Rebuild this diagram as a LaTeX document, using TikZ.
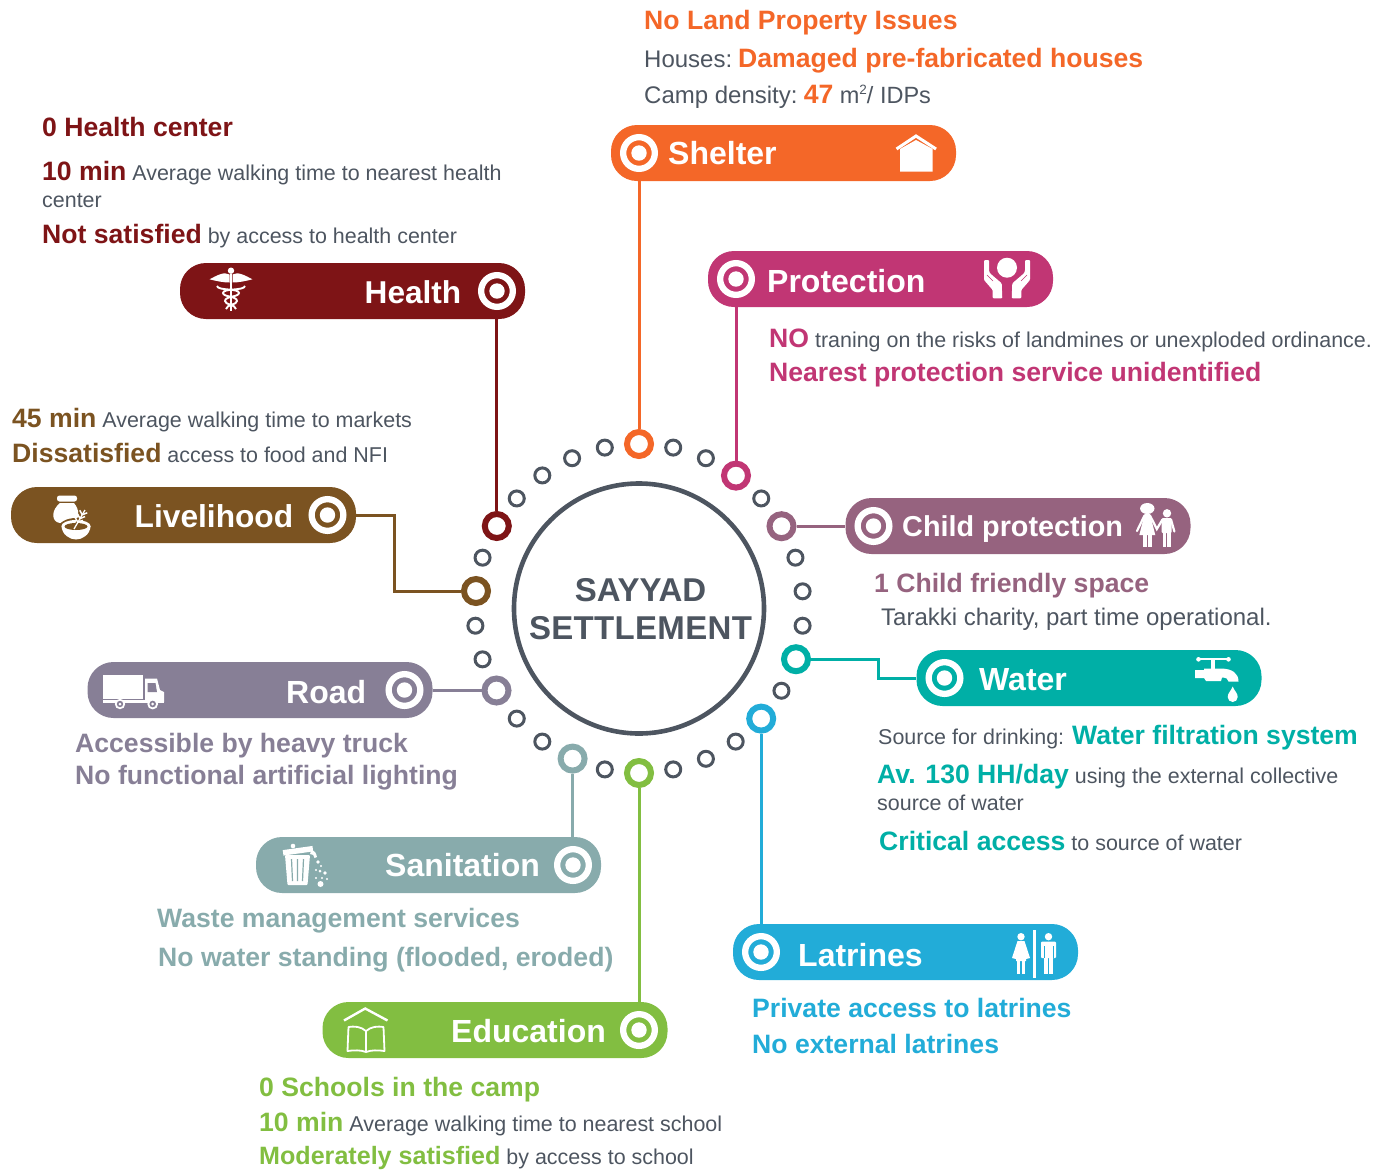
\documentclass[tikz,border=0pt]{standalone}
\usepackage{fontspec}
\usetikzlibrary{calc}
\setmainfont{Liberation Sans}
\definecolor{shelterc}{HTML}{F46728}
\definecolor{protectc}{HTML}{C13674}
\definecolor{healthc}{HTML}{7E1416}
\definecolor{livelic}{HTML}{7B5321}
\definecolor{childc}{HTML}{96637F}
\definecolor{waterc}{HTML}{00AFA6}
\definecolor{roadc}{HTML}{877F96}
\definecolor{sanitc}{HTML}{88ABAC}
\definecolor{educc}{HTML}{82BE41}
\definecolor{latrc}{HTML}{22ACD8}
\definecolor{grayt}{HTML}{4D5560}
\newcommand\hlt[2]{{\color{#1}\fontsize{26.6}{30}\selectfont\bfseries #2}}
\tikzset{
  pill/.style={rectangle,rounded corners=26pt,fill=#1,minimum width=345pt,minimum height=56pt,inner sep=0pt},
  pilltext/.style={anchor=base west,inner sep=0pt,text=white,font=\fontsize{32}{36}\selectfont\bfseries},
  txt/.style={anchor=base west,inner sep=0pt,text=grayt,font=\fontsize{21.45}{26}\selectfont},
  txtbig/.style={txt,font=\fontsize{24}{28}\selectfont},
  smalldot/.style={circle,draw=grayt,line width=3pt,fill=white,minimum size=15pt,inner sep=0pt},
  bigdot/.style={circle,draw=#1,line width=6pt,fill=white,minimum size=24pt,inner sep=0pt},
  link/.style={draw=#1,line width=3pt},
  pics/target/.style={code={
    \fill[white] (0,0) circle[radius=7.7pt];
    \draw[white,line width=6.3pt] (0,0) circle[radius=15.85pt];
  }}
}
\begin{document}
\begin{tikzpicture}[x=1pt,y=-1pt]
\useasboundingbox (0,0) rectangle (1393,1171);
% central circle
\node[circle,draw=grayt,line width=4.6pt,fill=white,minimum size=250pt,inner sep=0pt] (settlement) at (639,608.5) {};
\node[inner sep=0pt,text=grayt,align=center,font=\fontsize{33}{38}\selectfont\bfseries] (settlementtext) at (640.5,609.5) {SAYYAD\\\addfontfeatures{LetterSpace=1}SETTLEMENT};
% small dots
\foreach \k in {1,2,4,6,7,8,10,12,13,14,16,18,19,21,22,24,26,27,28,29}{
  \pgfmathsetmacro\px{639+164.5*cos(90-12*\k)}
  \pgfmathsetmacro\py{608.5-164.5*sin(90-12*\k)}
  \node[smalldot] (dot\k) at (\px,\py) {};
}
% big dots
\node[bigdot=shelterc] (dshelter) at (639,444) {};
\node[bigdot=protectc] (dprotect) at (736,475.6) {};
\node[bigdot=childc] (dchild) at (781.5,526.2) {};
\node[bigdot=waterc] (dwater) at (796,659.2) {};
\node[bigdot=latrc] (dlatr) at (761.2,718.6) {};
\node[bigdot=educc] (deduc) at (639,773) {};
\node[bigdot=sanitc] (dsanit) at (572.6,758.6) {};
\node[bigdot=roadc] (droad) at (496.5,690.5) {};
\node[bigdot=livelic] (dliveli) at (476,591) {};
\node[bigdot=healthc] (dhealth) at (496.8,526) {};
% pills
\node[pill=shelterc] (shelter) at (783.5,153) {};
\node[pill=protectc] (protect) at (880.5,279) {};
\node[pill=healthc] (health) at (352.5,291) {};
\node[pill=livelic] (liveli) at (183.5,515) {};
\node[pill=childc] (child) at (1018,526) {};
\node[pill=waterc] (water) at (1089,678) {};
\node[pill=roadc] (road) at (260,690) {};
\node[pill=sanitc] (sanit) at (428.5,865) {};
\node[pill=educc] (educ) at (495,1030) {};
\node[pill=latrc] (latr) at (905.5,952) {};
% connectors
\draw[link=shelterc] (dshelter |- shelter.south) -- (dshelter);
\draw[link=protectc] (dprotect |- protect.south) -- (dprotect);
\draw[link=healthc] (dhealth |- health.south) -- (dhealth);
\draw[link=childc] (dchild) -- (child.west |- dchild);
\draw[link=latrc] (dlatr) -- (dlatr |- latr.north);
\draw[link=educc] (deduc) -- (deduc |- educ.north);
\draw[link=sanitc] (dsanit) -- (dsanit |- sanit.north);
\draw[link=roadc] (road.east |- droad) -- (droad);
\coordinate (waterbend) at (878,659.2);
\draw[link=waterc] (dwater) -- (waterbend) -- (waterbend |- water.west) -- (water.west);
\coordinate (livelibend) at (394,515);
\draw[link=livelic] (liveli.east) -- (livelibend) -- (livelibend |- dliveli) -- (dliveli);
% targets
\pic at (639,153) {target};
\pic at (736,279) {target};
\pic at (497,291) {target};
\pic at (327.5,515) {target};
\pic at (873.5,526) {target};
\pic at (944.5,678) {target};
\pic at (404.5,690) {target};
\pic at (573,865) {target};
\pic at (639,1030) {target};
\pic at (761,952) {target};
% pill labels
\node[pilltext] (lshelter) at (668,164) {Shelter};
\node[pilltext] (lprotect) at (767,292) {Protection};
\node[pilltext,font=\fontsize{31.6}{36}\selectfont\bfseries] (lhealth) at (364.5,303) {Health};
\node[pilltext,font=\fontsize{31.7}{36}\selectfont\bfseries] (lliveli) at (134.5,527) {Livelihood};
\node[pilltext,font=\fontsize{28.8}{34}\selectfont\bfseries] (lchild) at (902,536.5) {Child protection};
\node[pilltext] (lwater) at (979,690) {Water};
\node[pilltext] (lroad) at (286,703) {Road};
\node[pilltext] (lsanit) at (385,876) {Sanitation};
\node[pilltext] (leduc) at (451,1042) {Education};
\node[pilltext] (llatr) at (798,966) {Latrines};
% texts: shelter
\node[txtbig] (s1) at (644,29) {\hlt{shelterc}{No Land Property Issues}};
\node[txtbig] (s2) at (644,67) {Houses:\hspace{6pt}\hlt{shelterc}{Damaged pre-fabricated houses}};
\node[txtbig] (s3) at (644,103) {Camp density:\hspace{6.2pt}\hlt{shelterc}{47}\hspace{6.5pt}{\fontsize{23.5}{26}\selectfont m\raisebox{8.5pt}{\fontsize{13.5}{14}\selectfont 2}/ IDPs}};
% health
\node[txt] (h1) at (42,136) {\hlt{healthc}{0 Health center}};
\node[txt] (h2) at (42,180) {\hlt{healthc}{10 min} Average walking time to nearest health};
\node[txt] (h3) at (42,207) {center};
\node[txt] (h4) at (42,243) {\hlt{healthc}{Not satisfied} by access to health center};
% livelihood
\node[txt] (v1) at (12,427) {\hlt{livelic}{45 min} Average walking time to markets};
\node[txt] (v2) at (12,462) {\hlt{livelic}{Dissatisfied} access to food and NFI};
% protection
\node[txt] (p1) at (769,347) {\hlt{protectc}{NO} traning on the risks of landmines or unexploded ordinance.};
\node[txt] (p2) at (769,381) {\hlt{protectc}{Nearest protection service unidentified}};
% child
\node[txt] (c1) at (874,592) {\hlt{childc}{1 Child friendly space}};
\node[txtbig] (c2) at (881,625) {Tarakki charity, part time operational.};
% water
\node[txt] (w1) at (878,744) {Source for drinking: \hlt{waterc}{Water filtration system}};
\node[txt] (w2) at (877,783) {\hlt{waterc}{Av. 130 HH/day} using the external collective};
\node[txt] (w3) at (877,810) {source of water};
\node[txt] (w4) at (879,850) {\hlt{waterc}{Critical access} to source of water};
% latrines
\node[txt] (l1) at (752,1017) {\hlt{latrc}{Private access to latrines}};
\node[txt] (l2) at (752,1053) {\hlt{latrc}{No external latrines}};
% road
\node[txt] (r1) at (75,752) {\hlt{roadc}{Accessible by heavy truck}};
\node[txt] (r2) at (75,784) {\hlt{roadc}{No functional artificial lighting}};
% sanitation
\node[txt] (a1) at (157,927) {\hlt{sanitc}{Waste management services}};
\node[txt] (a2) at (158,966) {\hlt{sanitc}{No water standing (flooded, eroded)}};
% education
\node[txt] (e1) at (259,1096) {\hlt{educc}{0 Schools in the camp}};
\node[txt] (e2) at (259,1131) {\hlt{educc}{10 min} Average walking time to nearest school};
\node[txt] (e3) at (259,1164) {{\color{educc}\fontsize{25.1}{30}\selectfont\bfseries Moderately satisfied} by access to school};
% icon: house
\draw[white,line width=3pt] (896.5,149) -- (916,136) -- (936,149);
\fill[white] (900,171.7) -- (932.7,171.7) -- (932.7,149) -- (916,140) -- (900,149) -- cycle;
% icon: hands
\fill[white] (1007,267.7) circle[radius=10pt];
\fill[white,rounded corners=1pt] (984,260) -- (989,260) -- (989,270.7) -- (990,273.3) -- (1001.7,283.3) -- (1002.3,298.3) -- (992.7,298.3) -- (992.7,290) -- (984,280) -- cycle;
\fill[white,rounded corners=1pt] (1030,260) -- (1025,260) -- (1025,270.7) -- (1024,273.3) -- (1012.3,283.3) -- (1011.7,298.3) -- (1021.3,298.3) -- (1021.3,290) -- (1030,280) -- cycle;
\draw[protectc,line width=0.5pt] (987,275) -- (993,281) (1027,275) -- (1021,281);
% icon: caduceus
\fill[white] (231,270.7) circle[radius=3.2pt];
\fill[white] (229.5,274.5) .. controls (224,271) and (216,276) .. (209.6,279.3) .. controls (216,281) and (223,282.5) .. (229.5,282.5) -- cycle;
\fill[white] (232.5,274.5) .. controls (238,271) and (246,276) .. (252.4,279.3) .. controls (246,281) and (239,282.5) .. (232.5,282.5) -- cycle;
\draw[white,line width=1.6pt] (231,274) -- (231,311);
\draw[white,line width=1.9pt] (217,286) .. controls (218,291) and (239,288) .. (239,293) .. controls (239,297) and (225,296) .. (225,301) .. controls (225,305) and (235,304) .. (236,309);
\draw[white,line width=1.9pt] (245,286) .. controls (244,291) and (223,288) .. (223,293) .. controls (223,297) and (237,296) .. (237,301) .. controls (237,305) and (227,304) .. (226,309);
% icon: sack and bowl
\fill[white,rounded corners=2.5pt] (57,495.5) rectangle (77,501.5);
\fill[white] (60,503) .. controls (51,510) and (51,522) .. (60,523) -- (72,523) .. controls (80,520) and (80,510) .. (74,503) -- cycle;
\fill[livelic] (76,528) ellipse[x radius=17.5pt,y radius=10pt];
\fill[white] (61.5,526) .. controls (62,535) and (70,539.5) .. (76,539.5) .. controls (82,539.5) and (90,535) .. (90.6,526) -- cycle;
\fill[white] (76,526) ellipse[x radius=14.5pt,y radius=6pt];
\fill[livelic] (76,526.5) ellipse[x radius=11.5pt,y radius=3.5pt];
\draw[livelic,line width=3pt] (74,529) -- (85,508);
\draw[white,line width=1.3pt] (74,529) -- (85,510);
\foreach \t in {0.35,0.55,0.75}{
  \draw[white,line width=1.5pt] ($(74,529)!\t!(85,510)$) -- ++(-2.5,-4.5);
  \draw[white,line width=1.5pt] ($(74,529)!\t!(85,510)$) -- ++(5,-2);
}
% icon: children
\fill[white] (1147.3,508.5) ellipse[x radius=7.2pt,y radius=5.5pt];
\fill[white] (1147.3,513) -- (1150,514) -- (1155.3,535) -- (1139.3,535) -- (1144.6,514) -- cycle;
\fill[white] (1143.3,535) rectangle (1146.6,547);
\fill[white] (1148.3,535) rectangle (1151.6,547);
\draw[white,line width=2.2pt,line cap=round] (1144.5,515.5) -- (1137,531);
\draw[white,line width=2.2pt,line cap=round] (1150,515.5) -- (1156.8,529) -- (1162.5,519.5);
\fill[white] (1167,513.3) circle[radius=4.2pt];
\fill[white,rounded corners=1pt] (1161.7,518.2) rectangle (1171.7,533);
\fill[white] (1162.5,532) rectangle (1166.3,547);
\fill[white] (1167.3,532) rectangle (1171,547);
\draw[white,line width=2.2pt,line cap=round] (1171,519.5) -- (1174.4,531.5);
% icon: tap
\draw[white,line width=2pt] (1199,659.3) -- (1228,659.3);
\fill[white] (1198.5,659.3) circle[radius=2.3pt] (1228.5,659.3) circle[radius=2.3pt];
\fill[white] (1211,659) rectangle (1215,670);
\fill[white] (1195,670) -- (1204,670) -- (1204,668.5) -- (1222,668.5) .. controls (1232,669) and (1238.5,673) .. (1238.5,681.5) -- (1228.5,681.5) .. controls (1228.5,679) and (1226,677.5) .. (1222,677.5) -- (1221,681) -- (1206,681) -- (1204,678) -- (1195,678) -- cycle;
\fill[white] (1232.7,686.5) .. controls (1231,691) and (1227.7,693) .. (1227.7,697) arc[start angle=180,end angle=360,radius=5pt] .. controls (1237.7,693) and (1234.4,691) .. (1232.7,686.5) -- cycle;
% icon: truck
\fill[white] (103,675) rectangle (142.5,698.5);
\fill[white] (145,678.5) -- (157,678.5) -- (160,690) -- (164,692) -- (164,702) -- (145,702) -- cycle;
\fill[roadc] (147.5,683) -- (155.5,683) -- (157,692) -- (147.5,692) -- cycle;
\fill[white] (103,700) rectangle (164,702.5);
\fill[white] (120,704) circle[radius=5.2pt];
\fill[roadc] (120,704) circle[radius=3.2pt];
\fill[white] (120,704) circle[radius=1.5pt];
\fill[white] (152.7,704) circle[radius=5.4pt];
\fill[roadc] (152.7,704) circle[radius=3.3pt];
\fill[white] (152.7,704) circle[radius=1.5pt];
% icon: bin
\fill[white] (293,846) circle[radius=2.3pt];
\fill[white,rotate around={8:(298,851)}] (283,848) rectangle (313,853.5);
\fill[white,rounded corners=1pt] (285,855) -- (310,855) -- (307.5,885) -- (287.5,885) -- cycle;
\draw[sanitc,line width=1.2pt] (291.5,859) -- (292.5,881) (297.5,859) -- (297.5,881) (303.5,859) -- (302.5,881);
\fill[white] (311,851) .. controls (315,850) and (316,853) .. (317,857) -- (314.5,858) .. controls (314,855) and (313,854) .. (310,854) -- cycle;
\foreach \dx/\dy/\dr in {318/862/1.8,321/866/1.2,316/870/1.2,320/871/1.5,325/873/1.8,316/878/1.2,322/878/1.2,327/879/1.2,320.5/884/3}{
  \fill[white] (\dx,\dy) circle[radius=\dr pt];
}
% icon: book
\draw[white,line width=2.4pt] (344,1020.5) -- (365.2,1008.5) -- (387.5,1020.5);
\draw[white,line width=1.8pt,line join=round] (366,1031) .. controls (361,1026.5) and (354,1026) .. (348.5,1027) -- (347.5,1051) .. controls (354,1050) and (361,1050) .. (366,1052) .. controls (371,1050) and (378,1050) .. (384.5,1051) -- (383.5,1027) .. controls (378,1026) and (371,1026.5) .. (366,1031) -- cycle;
\draw[white,line width=1.6pt] (366,1031) -- (366,1052);
% icon: latrines
\fill[white] (1021,936.7) circle[radius=3.7pt];
\fill[white] (1017.5,941) -- (1024.5,941) -- (1030,958) -- (1026,959) -- (1026,961) -- (1016,961) -- (1016,959) -- (1012,958) -- cycle;
\fill[white] (1017,960) rectangle (1020.3,973.5);
\fill[white] (1021.7,960) rectangle (1025,973.5);
\draw[white,line width=2.4pt] (1034.6,930) -- (1034.6,978.3);
\fill[white] (1048.5,936.7) circle[radius=3.7pt];
\fill[white,rounded corners=1pt] (1041,941.5) rectangle (1056,958);
\fill[white] (1044.2,948) rectangle (1052.8,958);
\fill[white] (1044.2,957) rectangle (1048,973.5);
\fill[white] (1049,957) rectangle (1052.8,973.5);
\draw[latrc,line width=0.8pt] (1044,946) -- (1044,958) (1053,946) -- (1053,958);
\end{tikzpicture}
\end{document}
